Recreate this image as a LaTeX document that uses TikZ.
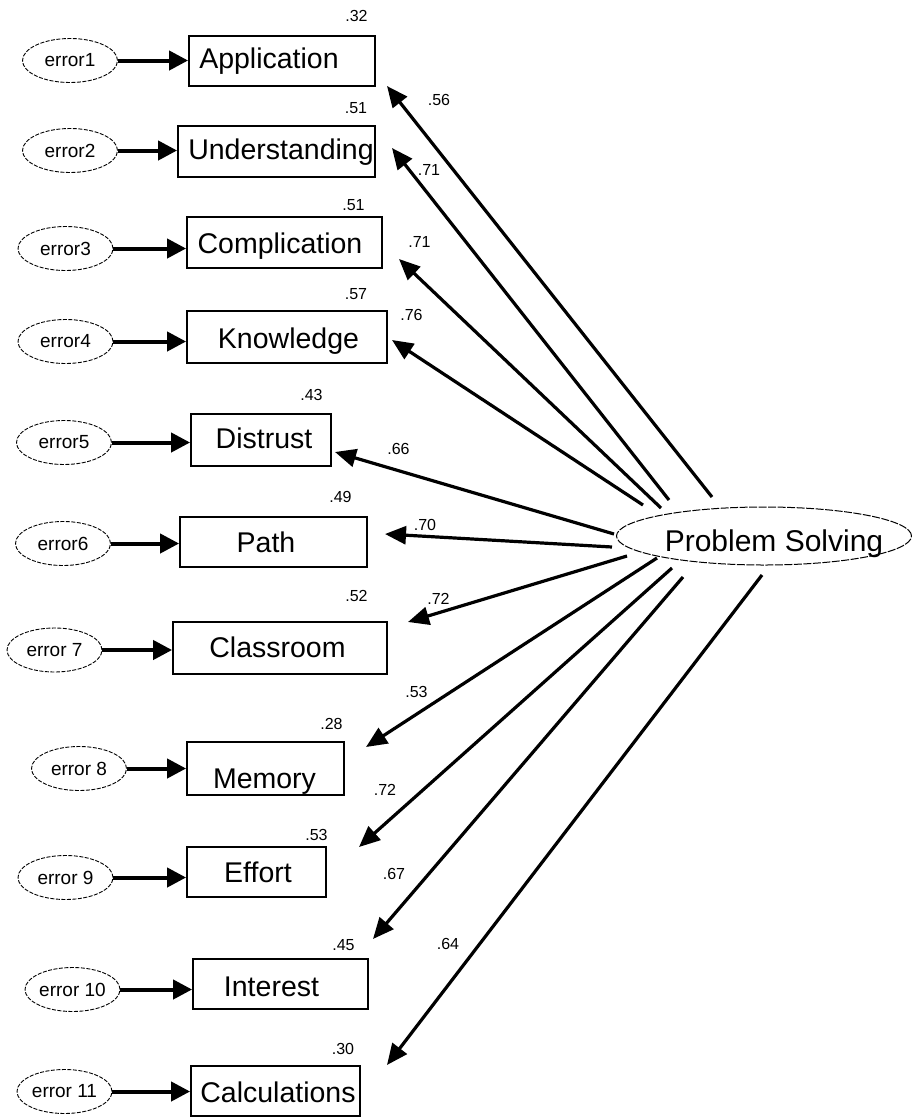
\documentclass[tikz,border=0pt]{standalone}
\usepackage{fontspec}
\setmainfont{Liberation Sans}
\usetikzlibrary{shapes.geometric,arrows.meta}
\tikzset{
  errell/.style={ellipse, draw, line width=0.9pt, dash pattern=on 4pt off 1.5pt,
    minimum width=95pt, minimum height=44pt, inner sep=0pt, font=\fontsize{19}{20}\selectfont},
  obsbox/.style={rectangle, draw, line width=1.8pt, inner sep=0pt},
  boxtext/.style={anchor=base, inner sep=0pt, font=\fontsize{28.5}{30}\selectfont},
  coef/.style={inner sep=0pt, font=\fontsize{16}{17}\selectfont},
  errarrow/.style={line width=4pt, -{Triangle[length=19pt,width=19pt]}},
  patharrow/.style={line width=3.2pt, -{Triangle[length=21pt,width=18pt]}},
  latent/.style={ellipse, draw, line width=1pt, dash pattern=on 8pt off 1.5pt,
    minimum width=295pt, minimum height=58pt, inner sep=0pt},
  latenttext/.style={anchor=base, inner sep=0pt, font=\fontsize{30}{32}\selectfont}
}
\begin{document}
\begin{tikzpicture}[x=1pt,y=-1pt]
\useasboundingbox[fill=white] (0,0) rectangle (912,1117);

% observed boxes
\node[obsbox, minimum width=186pt, minimum height=50pt] (b1) at (282,61) {};
\node[obsbox, minimum width=197pt, minimum height=51pt] (b2) at (276.5,151.5) {};
\node[obsbox, minimum width=195pt, minimum height=51pt] (b3) at (284.5,242.5) {};
\node[obsbox, minimum width=200pt, minimum height=52pt] (b4) at (287,337) {};
\node[obsbox, minimum width=140pt, minimum height=52pt] (b5) at (261,440) {};
\node[obsbox, minimum width=187pt, minimum height=50pt] (b6) at (273.5,542) {};
\node[obsbox, minimum width=214pt, minimum height=52pt] (b7) at (280,648) {};
\node[obsbox, minimum width=157pt, minimum height=53pt] (b8) at (265.5,768.5) {};
\node[obsbox, minimum width=139pt, minimum height=50pt] (b9) at (256.5,872) {};
\node[obsbox, minimum width=175pt, minimum height=50pt] (b10) at (280.5,984) {};
\node[obsbox, minimum width=169pt, minimum height=50pt] (b11) at (275.5,1091) {};

% box texts
\node[boxtext] (t1) at (269,68) {Application};
\node[boxtext] (t2) at (281,159) {Understanding};
\node[boxtext] (t3) at (280,253) {Complication};
\node[boxtext] (t4) at (288.5,348) {Knowledge};
\node[boxtext] (t5) at (264,448) {Distrust};
\node[boxtext] (t6) at (266,552) {Path};
\node[boxtext] (t7) at (277.5,657) {Classroom};
\node[boxtext] (t8) at (264.5,788) {Memory};
\node[boxtext] (t9) at (258,882) {Effort};
\node[boxtext] (t10) at (271.5,996) {Interest};
\node[boxtext] (t11) at (278,1102) {Calculations};

% error ellipses
\node[errell] (e1) at (70,60.5) {error1};
\node[errell] (e2) at (70,150.5) {error2};
\node[errell] (e3) at (65.5,248.5) {error3};
\node[errell] (e4) at (65.5,341.5) {error4};
\node[errell] (e5) at (64,442.5) {error5};
\node[errell] (e6) at (63,543.5) {error6};
\node[errell] (e7) at (54.5,650) {error 7};
\node[errell] (e8) at (79,768.5) {error 8};
\node[errell] (e9) at (65.5,877.5) {error 9};
\node[errell] (e10) at (72.5,989.5) {error 10};
\node[errell] (e11) at (64.5,1091.5) {error 11};

\foreach \i in {1,...,11} {
  \draw[errarrow] (e\i.east) -- (e\i.east -| b\i.west);
}

% latent variable
\node[latent] (ps) at (764,536) {};
\node[latenttext] (pst) at (774,551) {Problem Solving};

% tails and tips of loadings
\coordinate (s1) at (712,497);  \coordinate (a1) at (387,86);
\coordinate (s2) at (669,500);  \coordinate (a2) at (392,148);
\coordinate (s3) at (661,508);  \coordinate (a3) at (399,259);
\coordinate (s4) at (643,505);  \coordinate (a4) at (392,340);
\coordinate (s5) at (614,534);  \coordinate (a5) at (335,452);
\coordinate (s6) at (612,547);  \coordinate (a6) at (385,534);
\coordinate (s7) at (627,556);  \coordinate (a7) at (408,622);
\coordinate (s8) at (657,558);  \coordinate (a8) at (366,747);
\coordinate (s9) at (672,568);  \coordinate (a9) at (359,847);
\coordinate (s10) at (683,577); \coordinate (a10) at (373,939);
\coordinate (s11) at (762,575); \coordinate (a11) at (387,1065);

\foreach \i in {1,...,11} {
  \draw[patharrow] (s\i) -- (a\i);
}

% squared multiple correlations
\node[coef] (r1) at (356.5,16) {.32};
\node[coef] (r2) at (356,108) {.51};
\node[coef] (r3) at (353.5,205) {.51};
\node[coef] (r4) at (356,294) {.57};
\node[coef] (r5) at (311.5,395) {.43};
\node[coef] (r6) at (340.5,497) {.49};
\node[coef] (r7) at (356.5,596) {.52};
\node[coef] (r8) at (331.5,723.5) {.28};
\node[coef] (r9) at (316.5,835) {.53};
\node[coef] (r10) at (343.5,945) {.45};
\node[coef] (r11) at (343,1049) {.30};

% loadings
\node[coef] (l1) at (439,99.5) {.56};
\node[coef] (l2) at (429,170) {.71};
\node[coef] (l3) at (419.5,242) {.71};
\node[coef] (l4) at (411.5,315) {.76};
\node[coef] (l5) at (398.5,448.5) {.66};
\node[coef] (l6) at (425,525) {.70};
\node[coef] (l7) at (438.5,598.5) {.72};
\node[coef] (l8) at (416.5,691.5) {.53};
\node[coef] (l9) at (385,790) {.72};
\node[coef] (l10) at (394,873.5) {.67};
\node[coef] (l11) at (448,943.5) {.64};
\end{tikzpicture}
\end{document}
